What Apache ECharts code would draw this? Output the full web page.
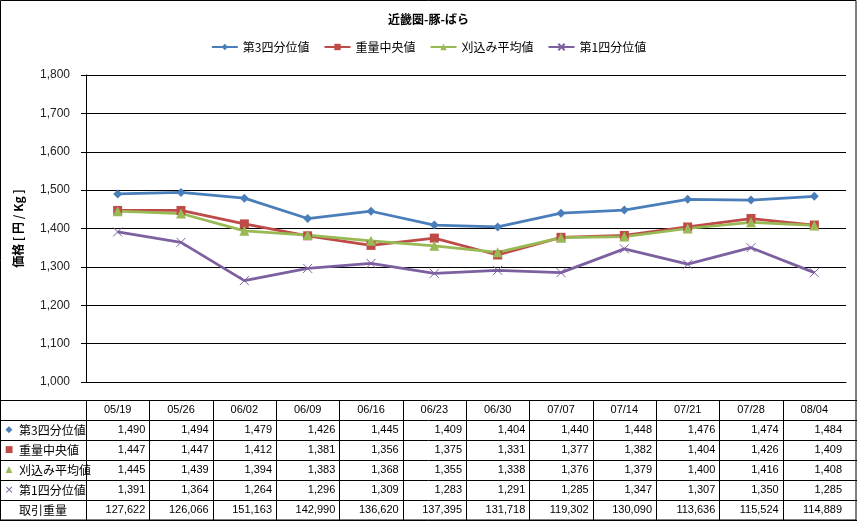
<!DOCTYPE html>
<html><head><meta charset="utf-8">
<script src="https://cdn.jsdelivr.net/npm/echarts@6/dist/echarts.min.js"></script>
<style>html,body{margin:0;padding:0;background:#fff}#c{width:857px;height:521px}</style>
</head><body><div id="c"></div>
<script>
const chartTitle = '近畿圏-豚-ばら';
const yAxisName = '価格 [ 円 / Kg ]';
const categories = ['05/19','05/26','06/02','06/09','06/16','06/23','06/30','07/07','07/14','07/21','07/28','08/04'];
const seriesNames = ['第3四分位値','重量中央値','刈込み平均値','第1四分位値'];
const q3Values      = [1490,1494,1479,1426,1445,1409,1404,1440,1448,1476,1474,1484];
const medianValues  = [1447,1447,1412,1381,1356,1375,1331,1377,1382,1404,1426,1409];
const trimmedValues = [1445,1439,1394,1383,1368,1355,1338,1376,1379,1400,1416,1408];
const q1Values      = [1391,1364,1264,1296,1309,1283,1291,1285,1347,1307,1350,1285];
const volumeLabel = '取引重量';
const volumeValues = [127622,126066,151163,142990,136620,137395,131718,119302,130090,113636,115524,114889];
const yMin = 1000, yMax = 1800, yInterval = 100;

const colors = ['#4A7EBB','#BE4B48','#98B954','#7D60A0'];
const symbols = ['diamond','rect','triangle','path://M0,0L10,10M10,0L0,10'];
const symbolSizes = [9,9,10,9];
const tableGlyphs = ['◆','■','▲','×'];
const allValues = [q3Values, medianValues, trimmedValues, q1Values];

const fmt = v => v.toLocaleString('en-US');
const chart = echarts.init(document.getElementById('c'));

const series = seriesNames.map((name, i) => ({
  name, type: 'line', data: allValues[i],
  symbol: symbols[i], symbolSize: symbolSizes[i], showAllSymbol: true,
  lineStyle: { color: colors[i], width: 2.75 },
  itemStyle: { color: colors[i], borderColor: colors[i], borderWidth: i === 3 ? 1 : 0 },
  emphasis: { disabled: true }, animation: false
}));

chart.setOption({
  animation: false,
  backgroundColor: '#fff',
  title: { text: chartTitle, left: 'center', top: 8,
    textStyle: { fontSize: 12, fontWeight: 'bold', color: '#000', fontFamily: 'Noto Sans CJK JP' } },
  legend: { top: 36, left: 'center', itemWidth: 26, itemHeight: 8, itemGap: 14,
    textStyle: { fontSize: 12, color: '#000', fontFamily: 'Noto Sans CJK JP' }, data: seriesNames },
  grid: { left: 86, right: 11, top: 75, bottom: 139, containLabel: false },
  xAxis: { type: 'category', data: categories, boundaryGap: true,
    axisLine: { show: true, lineStyle: { color: '#000', width: 1 } },
    axisTick: { show: false }, axisLabel: { show: false }, splitLine: { show: false } },
  yAxis: { type: 'value', min: yMin, max: yMax, interval: yInterval,
    name: yAxisName, nameLocation: 'middle', nameGap: 62, nameRotate: 90,
    nameTextStyle: { fontSize: 12, fontWeight: 'bold', color: '#000', fontFamily: 'Noto Sans CJK JP' },
    axisLine: { show: true, lineStyle: { color: '#000', width: 1 } },
    axisTick: { show: true, length: 5, lineStyle: { color: '#000' } },
    axisLabel: { margin: 16, fontSize: 12, color: '#222', fontFamily: 'Liberation Sans', formatter: v => fmt(v) },
    splitLine: { show: true, lineStyle: { color: '#000', width: 1 } } },
  series
});

// Data table beneath the plot, positioned from the category axis
const centers = categories.map(c => chart.convertToPixel({ xAxisIndex: 0 }, c));
const colW = centers.length > 1 ? centers[1] - centers[0] : 60;
const leftEdge = centers[0] - colW / 2;
const tableTop = 400, rowH = 20, W = 857, H = 521;
const rows = seriesNames.length + 2;
const g = [];
const px = v => Math.round(v) + 0.5;
for (let r = 0; r <= rows; r++) {
  const y = px(tableTop + r * rowH);
  if (y < H) g.push({ type: 'line', shape: { x1: 0, y1: y, x2: W, y2: y }, style: { stroke: '#000', lineWidth: 1 } });
}
for (let c = 0; c < categories.length; c++) {
  const x = px(leftEdge + c * colW);
  g.push({ type: 'line', shape: { x1: x, y1: tableTop, x2: x, y2: tableTop + rows * rowH }, style: { stroke: '#000', lineWidth: 1 } });
}
const numFont = '11px "Liberation Sans", "Noto Sans"';
const cjkFont = '12px "Noto Sans CJK JP"';
categories.forEach((c, i) => {
  g.push({ type: 'text', x: centers[i], y: tableTop + rowH / 2,
    style: { text: c, font: numFont, fill: '#000', align: 'center', verticalAlign: 'middle' } });
});
const rowLabels = seriesNames.concat([volumeLabel]);
const rowData = allValues.concat([volumeValues]);
rowLabels.forEach((lab, r) => {
  const yc = tableTop + rowH * (r + 1) + rowH / 2;
  if (r < tableGlyphs.length) {
    g.push({ type: 'text', x: 9, y: yc,
      style: { text: tableGlyphs[r], font: (r === 3 ? '11px' : '9px') + ' "DejaVu Sans"', fill: colors[r], align: 'center', verticalAlign: 'middle' } });
  }
  g.push({ type: 'text', x: 19, y: yc,
    style: { text: lab, font: cjkFont, fill: '#000', align: 'left', verticalAlign: 'middle' } });
  rowData[r].forEach((v, i) => {
    g.push({ type: 'text', x: centers[i] + colW / 2 - 4, y: yc,
      style: { text: fmt(v), font: numFont, fill: '#000', align: 'right', verticalAlign: 'middle' } });
  });
});
g.push({ type: 'rect', shape: { x: 0.5, y: 0.5, width: W - 1.5, height: H - 1.5 },
  style: { fill: 'none', stroke: '#000', lineWidth: 1 } });
chart.setOption({ graphic: { elements: g } });
</script></body></html>
